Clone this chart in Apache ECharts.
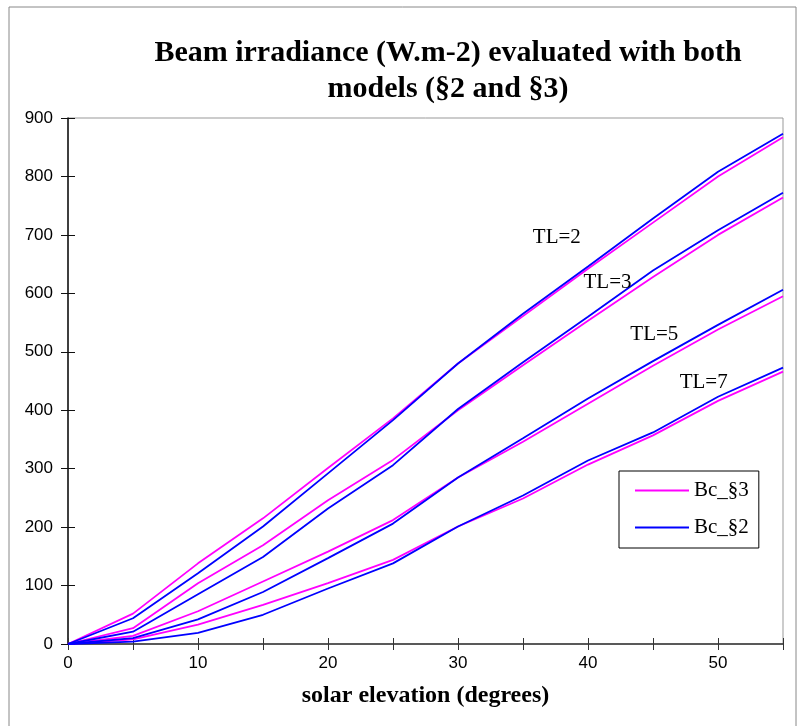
<!DOCTYPE html>
<html>
<head>
<meta charset="utf-8">
<script src="https://cdn.jsdelivr.net/npm/echarts@6/dist/echarts.min.js"></script>
<style>
  html, body { margin: 0; padding: 0; background: #fff; }
  #chart { width: 797px; height: 726px; }
</style>
</head>
<body>
<div id="chart"></div>
<script>
// solar elevation (degrees)
const elevation = [0, 5, 10, 15, 20, 25, 30, 35, 40, 45, 50, 55];

// Bc_§3 (magenta), one array per Linke turbidity
const bc3_TL2 = [0, 52, 138, 215, 301, 386, 480, 561, 642, 721, 800, 867];
const bc3_TL3 = [0, 27, 104, 169, 246, 315, 400, 477, 553, 628, 700, 764];
const bc3_TL5 = [0, 14, 56, 107, 158, 212, 285, 346, 411, 476, 538, 595];
const bc3_TL7 = [0, 8, 33, 67, 104, 144, 201, 249, 307, 357, 416, 466];

// Bc_§2 (blue)
const bc2_TL2 = [0, 44, 121, 201, 292, 383, 480, 565, 646, 728, 808, 873];
const bc2_TL3 = [0, 21, 85, 149, 232, 306, 402, 482, 560, 639, 708, 772];
const bc2_TL5 = [0, 10, 42, 89, 147, 206, 285, 352, 420, 484, 546, 606];
const bc2_TL7 = [0, 4, 19, 50, 95, 138, 201, 254, 314, 362, 423, 473];

// curve annotations [elevation, irradiance, text]
const tlLabels = [
    [37.6, 696, "TL=2"],
    [41.5, 618, "TL=3"],
    [45.1, 529, "TL=5"],
    [48.9, 448, "TL=7"]
];

const pair = (ys) => elevation.map((x, i) => [x, ys[i]]);

const magenta = "#ff00ff";
const blue = "#0000ff";

function line(name, ys, color) {
    return {
        name: name,
        type: "line",
        data: pair(ys),
        symbol: "none",
        color: color,
        lineStyle: { color: color, width: 1.8 },
        z: color === blue ? 3 : 2
    };
}

const chart = echarts.init(document.getElementById("chart"));

const option = {
    backgroundColor: "#fff",
    animation: false,
    title: {
        text: "Beam irradiance (W.m-2) evaluated with both\nmodels (§2 and §3)",
        left: 443,
        top: 30,
        textAlign: "center",
        textStyle: {
            fontFamily: "Liberation Serif",
            fontWeight: "bold",
            fontSize: 30,
            lineHeight: 36,
            color: "#000"
        }
    },
    graphic: [{
        type: "rect",
        shape: { x: 9, y: 7, width: 787, height: 730 },
        style: { fill: "none", stroke: "#888", lineWidth: 1 },
        silent: true
    }],
    legend: {
        data: ["Bc_§3", "Bc_§2"],
        orient: "vertical",
        left: 619,
        top: 471,
        padding: [9, 10, 10, 16],
        itemGap: 16,
        itemWidth: 54,
        itemHeight: 2,
        icon: "rect",
        borderColor: "#000",
        borderWidth: 1,
        textStyle: {
            fontFamily: "Liberation Serif",
            fontSize: 21,
            color: "#000"
        }
    },
    grid: {
        left: 68,
        top: 118,
        right: 14,
        bottom: 82,
        show: true,
        borderColor: "#999",
        borderWidth: 1
    },
    xAxis: [{
        type: "value",
        min: 0,
        max: 55,
        interval: 5,
        name: "solar elevation (degrees)",
        nameLocation: "middle",
        nameGap: 40,
        nameTextStyle: {
            fontFamily: "Liberation Serif",
            fontWeight: "bold",
            fontSize: 24,
            color: "#000"
        },
        axisLine: { show: true, lineStyle: { color: "#333", width: 1.5 } },
        axisTick: { show: true, length: 6, lineStyle: { color: "#333" } },
        axisLabel: {
            margin: 11,
            fontFamily: "Liberation Sans",
            fontSize: 17,
            color: "#000",
            formatter: (v) => (v % 10 === 0 ? String(v) : "")
        },
        splitLine: { show: false }
    }, {
        type: "value",
        min: 0,
        max: 55,
        interval: 5,
        position: "bottom",
        axisLine: { show: false },
        axisTick: { show: true, inside: true, length: 6, lineStyle: { color: "#333" } },
        axisLabel: { show: false },
        splitLine: { show: false }
    }],
    yAxis: [{
        type: "value",
        min: 0,
        max: 900,
        interval: 100,
        axisLine: { show: true, lineStyle: { color: "#111", width: 1.5 } },
        axisTick: { show: true, length: 7, lineStyle: { color: "#111" } },
        axisLabel: {
            margin: 15,
            fontFamily: "Liberation Sans",
            fontSize: 17,
            color: "#000"
        },
        splitLine: { show: false }
    }, {
        type: "value",
        min: 0,
        max: 900,
        interval: 100,
        position: "left",
        axisLine: { show: false },
        axisTick: { show: true, inside: true, length: 7, lineStyle: { color: "#111" } },
        axisLabel: { show: false },
        splitLine: { show: false }
    }],
    series: [
        line("Bc_§3", bc3_TL2, magenta),
        line("Bc_§3", bc3_TL3, magenta),
        line("Bc_§3", bc3_TL5, magenta),
        line("Bc_§3", bc3_TL7, magenta),
        line("Bc_§2", bc2_TL2, blue),
        line("Bc_§2", bc2_TL3, blue),
        line("Bc_§2", bc2_TL5, blue),
        line("Bc_§2", bc2_TL7, blue),
        {
            name: "labels",
            type: "scatter",
            data: tlLabels,
            symbolSize: 0,
            silent: true,
            z: 5,
            itemStyle: { opacity: 1 },
            label: {
                show: true,
                position: "inside",
                formatter: (p) => p.data[2],
                fontFamily: "Liberation Serif",
                fontSize: 21,
                color: "#000",
                opacity: 1
            }
        }
    ]
};

chart.setOption(option);
</script>
</body>
</html>
